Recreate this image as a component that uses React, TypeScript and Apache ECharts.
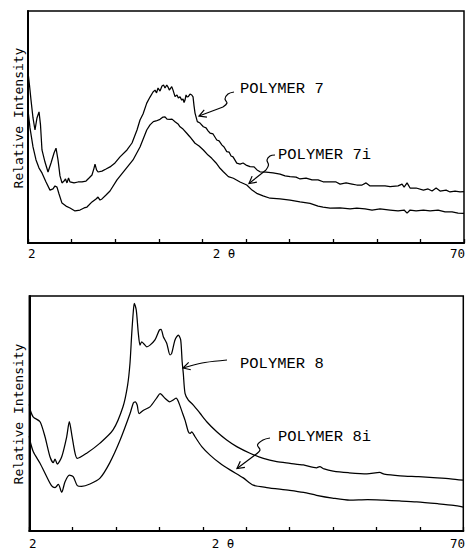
import React, { useEffect, useRef } from 'react';
import * as echarts from 'echarts';

// ---- data (2θ in degrees, relative intensity 0..100) ----
const X_MIN = 2;
const X_MAX = 70;
const TICK_STEP = 6.8; // 10 equal divisions between 2 and 70
const xEndLabels = ['2', '70'];
const xTitle = '2 θ';
const yTitle = 'Relative Intensity';
const seriesNames = ['POLYMER 7', 'POLYMER 7i', 'POLYMER 8', 'POLYMER 8i'];

const polymer7: [number, number][] = [
  [2.0, 73.7], [2.23, 68.1], [2.47, 61.6], [2.78, 53.9], [3.09, 48.7], [3.4, 53.9], [3.72, 56.5],
  [3.95, 50.9], [4.18, 40.1], [4.65, 34.9], [5.12, 30.6], [5.59, 34.5], [6.06, 38.8], [6.37, 40.9],
  [6.68, 35.8], [6.99, 28.9], [7.3, 25.9], [7.62, 26.7], [7.85, 27.6], [8.08, 25.9], [8.32, 28.0],
  [8.55, 26.3], [9.18, 25.9], [9.8, 26.3], [10.42, 26.3], [11.05, 26.7], [11.52, 28.0], [11.98, 29.3],
  [12.3, 32.3], [12.45, 34.0], [12.69, 31.5], [12.92, 30.6], [13.54, 31.0], [14.17, 31.9], [14.79, 32.8],
  [15.57, 34.5], [16.35, 37.1], [17.44, 40.1], [18.22, 43.1], [19.0, 48.7], [19.47, 53.0], [19.94, 55.6],
  [20.52, 60.3], [21.03, 62.9], [21.5, 65.1], [21.81, 65.9], [22.05, 64.7], [22.28, 66.8], [22.59, 65.5],
  [22.9, 67.7], [23.14, 68.1], [23.37, 66.8], [23.64, 68.1], [23.84, 67.2], [24.04, 65.9], [24.42, 67.4],
  [24.62, 65.9], [24.93, 63.1], [25.24, 63.8], [25.45, 62.5], [25.71, 63.0], [25.98, 61.6], [26.18, 62.1],
  [26.34, 60.5], [26.49, 61.6], [26.65, 63.8], [26.8, 63.0], [27.0, 63.1], [27.27, 64.2], [27.54, 63.8],
  [27.74, 63.0], [27.9, 59.0], [28.05, 56.0], [28.41, 52.3], [28.83, 51.7], [29.35, 50.1], [29.77, 49.6],
  [30.08, 48.3], [30.39, 47.4], [30.86, 47.0], [31.44, 44.4], [31.8, 44.0], [32.26, 42.2], [32.58, 41.4],
  [33.0, 39.4], [33.36, 39.2], [33.67, 37.5], [33.98, 37.1], [34.56, 34.4], [35.07, 34.0], [35.54, 34.5],
  [36.01, 33.6], [36.63, 32.9], [37.26, 32.8], [37.72, 31.5], [38.19, 30.7], [39.13, 30.6], [40.22, 30.2],
  [41.31, 29.7], [42.09, 28.9], [42.87, 28.6], [43.81, 28.4], [44.43, 27.6], [45.37, 28.0], [46.3, 27.2],
  [47.24, 27.2], [48.02, 26.4], [49.11, 26.3], [50.05, 26.3], [50.67, 25.4], [51.61, 25.9], [52.54, 25.4],
  [53.28, 25.0], [54.1, 25.0], [54.73, 25.9], [55.35, 24.6], [56.6, 24.6], [57.69, 24.6], [58.47, 24.3],
  [59.72, 24.6], [60.34, 25.4], [60.66, 24.1], [61.12, 25.9], [61.59, 23.7], [62.53, 23.7], [63.67, 22.8],
  [64.4, 23.3], [65.02, 22.4], [65.65, 23.7], [66.27, 22.4], [67.21, 22.8], [67.83, 22.0], [68.61, 22.4],
  [69.39, 22.0], [70.0, 22.1],
];

const polymer7i: [number, number][] = [
  [2.0, 57.3], [2.31, 49.6], [2.78, 41.4], [3.25, 35.8], [3.72, 32.3], [4.18, 30.2], [4.81, 26.3],
  [5.43, 22.8], [5.9, 23.3], [6.21, 24.6], [6.52, 24.1], [6.84, 21.1], [7.3, 17.2], [7.93, 15.9],
  [8.55, 15.1], [9.33, 13.8], [10.11, 14.2], [10.74, 15.1], [11.2, 15.5], [11.98, 17.7], [12.61, 19.0],
  [12.92, 19.8], [13.23, 18.5], [13.54, 19.0], [14.17, 20.7], [14.79, 22.4], [15.88, 27.2], [17.13, 31.5],
  [18.38, 35.8], [19.47, 41.4], [20.52, 48.7], [21.03, 50.9], [21.55, 52.3], [21.97, 52.6], [22.59, 53.3],
  [23.06, 54.3], [23.37, 54.4], [23.68, 53.4], [24.15, 53.3], [24.46, 53.4], [24.93, 52.3], [25.4, 51.3],
  [25.71, 50.1], [26.18, 49.1], [26.76, 47.3], [27.27, 45.7], [28.05, 43.0], [28.68, 41.8], [29.35, 40.1],
  [30.08, 37.9], [30.66, 36.5], [31.33, 34.5], [31.95, 32.2], [32.47, 30.7], [33.25, 28.6], [34.03, 27.9],
  [35.07, 26.3], [36.12, 25.0], [36.94, 22.8], [37.67, 21.4], [38.66, 20.3], [39.75, 19.3], [41.31, 19.0],
  [42.87, 18.5], [44.43, 17.7], [45.99, 17.1], [47.24, 15.9], [48.02, 15.5], [49.11, 15.0], [50.67, 15.1],
  [52.23, 14.7], [53.28, 15.0], [54.57, 14.7], [55.66, 14.2], [56.91, 14.7], [58.47, 14.2], [59.72, 13.8],
  [60.66, 14.2], [61.12, 12.9], [61.59, 14.2], [62.53, 13.8], [63.67, 14.2], [64.71, 13.8], [65.96, 14.2],
  [67.05, 13.4], [68.14, 13.4], [69.08, 12.9], [70.0, 12.8],
];

const polymer8: [number, number][] = [
  [2.0, 54.0], [2.15, 51.5], [2.63, 48.5], [3.68, 46.5], [4.46, 40.1], [5.24, 31.6], [5.76, 29.1],
  [6.03, 30.6], [6.39, 28.5], [7.08, 31.6], [7.86, 40.1], [8.27, 46.5], [8.69, 40.4], [9.16, 33.2],
  [9.52, 30.9], [10.99, 33.1], [13.08, 37.4], [15.12, 43.0], [16.68, 52.9], [17.4, 62.0], [17.78, 71.5],
  [18.05, 84.0], [18.3, 93.5], [18.45, 96.9], [18.76, 94.0], [19.08, 84.2], [19.35, 79.1], [19.61, 80.5],
  [19.97, 79.6], [20.4, 78.4], [20.91, 79.1], [21.69, 81.3], [22.37, 85.5], [22.64, 85.8], [23.0, 82.7],
  [23.53, 79.9], [24.05, 74.9], [24.31, 75.6], [24.83, 81.3], [25.35, 83.4], [25.72, 81.3], [25.95, 72.0],
  [26.13, 67.0], [26.4, 58.6], [26.92, 55.7], [27.7, 53.6], [28.75, 50.1], [29.8, 46.5], [31.37, 42.2],
  [32.93, 38.7], [34.5, 35.9], [36.58, 33.1], [38.67, 30.9], [40.77, 29.5], [42.85, 28.8], [44.94, 28.1],
  [47.0, 26.9], [47.5, 27.4], [48.2, 26.4], [49.6, 25.5], [52.0, 24.8], [54.9, 24.3], [56.9, 24.9],
  [57.6, 24.2], [60.1, 23.5], [63.0, 23.1], [65.3, 22.7], [68.0, 22.2], [70.0, 21.6],
];

const polymer8i: [number, number][] = [
  [2.0, 40.5], [2.1, 38.5], [2.63, 33.7], [3.68, 28.8], [4.73, 23.1], [5.51, 19.2], [6.03, 18.5],
  [6.55, 19.8], [7.08, 16.5], [7.6, 21.0], [8.27, 23.8], [8.9, 23.0], [9.52, 19.3], [10.2, 19.0],
  [11.5, 20.0], [13.08, 22.5], [14.6, 29.0], [16.2, 38.5], [17.8, 50.1], [18.3, 54.5], [18.6, 55.0],
  [18.9, 53.6], [19.2, 50.0], [19.9, 51.4], [20.9, 52.8], [22.0, 56.8], [22.5, 58.5], [23.3, 56.4],
  [24.0, 55.0], [24.4, 55.5], [25.0, 56.5], [25.4, 54.8], [25.9, 51.0], [26.4, 47.2], [26.92, 42.2],
  [27.2, 41.5], [27.45, 42.2], [27.97, 40.1], [29.02, 35.9], [30.32, 32.3], [31.88, 28.8], [33.45, 26.0],
  [35.53, 22.6], [37.1, 19.5], [39.2, 18.5], [42.8, 17.3], [45.0, 16.4], [47.0, 15.2], [49.5, 14.0],
  [52.2, 13.1], [55.0, 13.3], [57.5, 13.1], [60.0, 12.8], [62.7, 12.4], [66.0, 11.6], [68.5, 10.9],
  [70.0, 10.2],
];

// ---- helpers for annotation arrows ----
type Pt = [number, number];
function arrow(squiggle: Pt[], tip: Pt) {
  const last = squiggle[squiggle.length - 1];
  const dx = last[0] - tip[0];
  const dy = last[1] - tip[1];
  const len = Math.hypot(dx, dy) || 1;
  const ux = dx / len, uy = dy / len;
  const L = 8, a = 0.5;
  const c = Math.cos(a), s = Math.sin(a);
  const w1: Pt = [tip[0] + L * (ux * c - uy * s), tip[1] + L * (ux * s + uy * c)];
  const w2: Pt = [tip[0] + L * (ux * c + uy * s), tip[1] + L * (-ux * s + uy * c)];
  const style = { stroke: '#000', lineWidth: 1.2, fill: null as any };
  return [
    { type: 'polyline', shape: { points: squiggle, smooth: 0.35 }, style },
    { type: 'line', shape: { x1: last[0], y1: last[1], x2: tip[0], y2: tip[1] }, style },
    { type: 'polyline', shape: { points: [w1, tip, w2] }, style },
  ];
}

const MONO = '"DejaVu Sans Mono", monospace';
const COURIER = '"Liberation Mono", "Courier New", monospace';

export default function App() {
  const ref = useRef<HTMLDivElement>(null);
  useEffect(() => {
    if (!ref.current) return;
    const chart = echarts.init(ref.current, null, { renderer: 'svg' });

    const grids = [
      { left: 28, top: 11, width: 436, height: 232 },
      { left: 29.3, top: 296, width: 434, height: 235 },
    ];

    const xAxes: any[] = [];
    const yAxes: any[] = [];
    grids.forEach((g, i) => {
      // data axis
      xAxes.push({
        gridIndex: i, type: 'value', min: X_MIN, max: X_MAX,
        axisLine: { show: false }, axisTick: { show: false }, axisLabel: { show: false },
        splitLine: { show: false },
      });
      // tick axis (same span, offset so that ticks fall at 2 + k*6.8)
      xAxes.push({
        gridIndex: i, type: 'value', min: 0, max: X_MAX - X_MIN, interval: TICK_STEP,
        position: 'bottom',
        axisLine: { show: true, lineStyle: { color: '#000', width: 2 } },
        axisTick: { show: true, inside: true, length: 4, lineStyle: { color: '#000', width: 1.3 } },
        axisLabel: { show: false },
        splitLine: { show: false },
      });
      yAxes.push({
        gridIndex: i, type: 'value', min: 0, max: 100,
        axisLine: { show: true, lineStyle: { color: '#000', width: 2 } },
        axisTick: { show: false }, axisLabel: { show: false }, splitLine: { show: false },
      });
    });

    const lineSeries = (name: string, data: Pt[], gi: number, smooth: number | boolean) => ({
      name, type: 'line', data, xAxisIndex: gi * 2, yAxisIndex: gi,
      showSymbol: false, symbol: 'none', smooth,
      lineStyle: { color: '#000', width: 1.25 },
      silent: true,
    });

    const txt = (text: string, x: number, y: number, font: string, size: number, align = 'left', extra: any = {}) => ({
      type: 'text', x, y, ...extra,
      style: { text, fill: '#000', font: `${size}px ${font}`, textAlign: align, textVerticalAlign: 'middle' },
    });

    const graphic: any[] = [
      // y titles
      txt(yTitle, 18, 118, MONO, 13, 'center', { rotation: Math.PI / 2 }),
      txt(yTitle, 18, 414, MONO, 13, 'center', { rotation: Math.PI / 2 }),
      // x labels top
      txt(xEndLabels[0], 28, 253, MONO, 12.5, 'left'),
      txt(xTitle, 224, 253, MONO, 12.5, 'center'),
      txt(xEndLabels[1], 465, 253, MONO, 12.5, 'right'),
      // x labels bottom
      txt(xEndLabels[0], 29, 543, MONO, 12.5, 'left'),
      txt(xTitle, 223, 543, MONO, 12.5, 'center'),
      txt(xEndLabels[1], 465, 543, MONO, 12.5, 'right'),
      // series labels
      txt(seriesNames[0], 240, 89, COURIER, 15.5),
      txt(seriesNames[1], 278, 155, COURIER, 15.5),
      txt(seriesNames[2], 240, 364, COURIER, 15.5),
      txt(seriesNames[3], 278, 437, COURIER, 15.5),
      ...arrow([[234, 92], [228, 94], [225, 99], [227, 103], [223, 107]], [199, 116]),
      ...arrow([[275, 155], [270, 156], [267, 160], [268.5, 165], [266, 170]], [249, 183.5]),
      ...arrow([[227, 360], [205, 362.5], [190, 366]], [183, 368]),
      ...arrow([[270, 438], [263, 440], [257.5, 445], [260, 450], [255, 455]], [237, 468.5]),
    ];

    chart.setOption({
      animation: false,
      backgroundColor: '#fff',
      grid: grids.map((g) => ({ ...g, show: true, borderColor: '#000', borderWidth: 1.5, backgroundColor: 'transparent' })),
      xAxis: xAxes,
      yAxis: yAxes,
      series: [
        lineSeries(seriesNames[0], polymer7, 0, false),
        lineSeries(seriesNames[1], polymer7i, 0, false),
        lineSeries(seriesNames[2], polymer8, 1, 0.25),
        lineSeries(seriesNames[3], polymer8i, 1, 0.25),
      ],
      graphic,
    });

    return () => chart.dispose();
  }, []);

  return <div ref={ref} style={{ position: 'absolute', left: 0, top: 0, width: 466, height: 550 }} />;
}
